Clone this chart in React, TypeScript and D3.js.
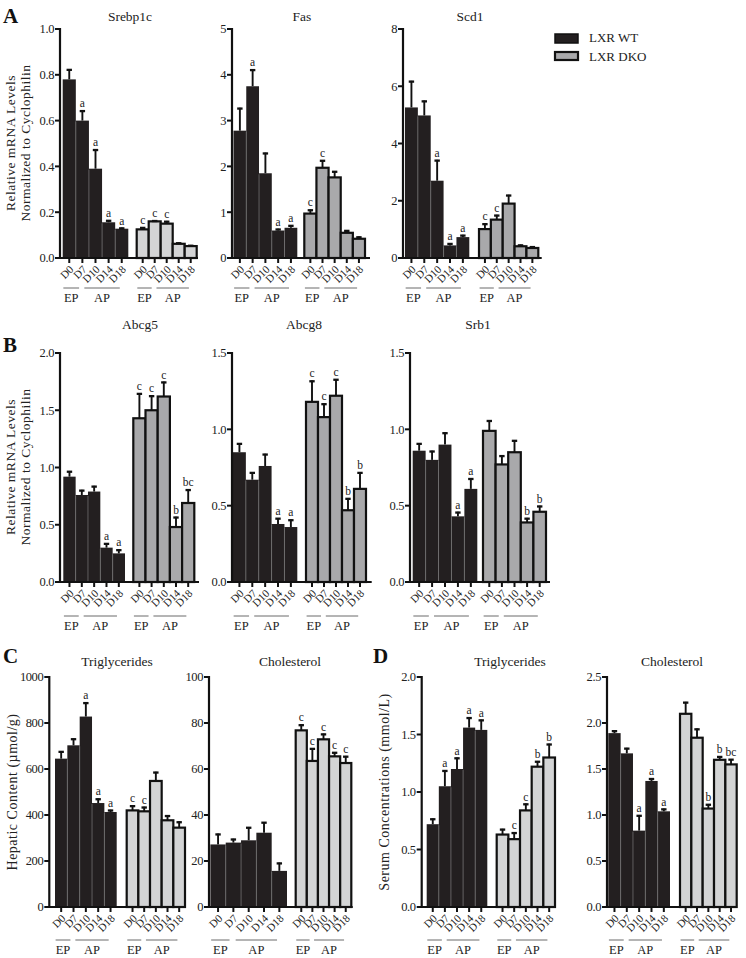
import React from "react";
import * as d3 from "d3";

const days = ["D0", "D7", "D10", "D14", "D18"];
const series = ["LXR WT", "LXR DKO"];
const phases = ["EP", "AP"];

// Panel A
const srebpWT = [0.78, 0.6, 0.39, 0.156, 0.128];
const srebpWTsem = [0.045, 0.045, 0.085, 0.01, 0.005];
const srebpWTsig = ["", "a", "a", "a", "a"];
const srebpKO = [0.125, 0.16, 0.15, 0.062, 0.052];
const srebpKOsem = [0.01, 0.005, 0.012, 0.006, 0.005];
const srebpKOsig = ["c", "c", "c", "", ""];

const fasWT = [2.78, 3.75, 1.85, 0.6, 0.66];
const fasWTsem = [0.5, 0.37, 0.45, 0.04, 0.06];
const fasWTsig = ["", "a", "", "a", "a"];
const fasKO = [0.97, 1.97, 1.76, 0.55, 0.42];
const fasKOsem = [0.09, 0.17, 0.14, 0.06, 0.05];
const fasKOsig = ["c", "c", "", "", ""];

const scdWT = [5.26, 4.98, 2.7, 0.44, 0.73];
const scdWTsem = [0.93, 0.52, 0.73, 0.08, 0.08];
const scdWTsig = ["", "", "a", "a", "a"];
const scdKO = [1.01, 1.34, 1.9, 0.41, 0.35];
const scdKOsem = [0.2, 0.17, 0.31, 0.06, 0.06];
const scdKOsig = ["c", "c", "", "", ""];

// Panel B
const abcg5WT = [0.92, 0.76, 0.79, 0.3, 0.25];
const abcg5WTsem = [0.05, 0.045, 0.05, 0.04, 0.035];
const abcg5WTsig = ["", "", "", "a", "a"];
const abcg5KO = [1.43, 1.5, 1.62, 0.48, 0.69];
const abcg5KOsem = [0.22, 0.13, 0.13, 0.09, 0.12];
const abcg5KOsig = ["c", "c", "c", "b", "bc"];

const abcg8WT = [0.85, 0.67, 0.76, 0.38, 0.36];
const abcg8WTsem = [0.06, 0.05, 0.08, 0.04, 0.05];
const abcg8WTsig = ["", "", "", "a", "a"];
const abcg8KO = [1.18, 1.08, 1.22, 0.47, 0.61];
const abcg8KOsem = [0.14, 0.09, 0.11, 0.08, 0.11];
const abcg8KOsig = ["c", "c", "c", "b", "b"];

const srb1WT = [0.86, 0.8, 0.9, 0.43, 0.61];
const srb1WTsem = [0.05, 0.06, 0.08, 0.03, 0.07];
const srb1WTsig = ["", "", "", "a", "a"];
const srb1KO = [0.99, 0.77, 0.85, 0.39, 0.46];
const srb1KOsem = [0.07, 0.06, 0.08, 0.03, 0.04];
const srb1KOsig = ["", "", "", "b", "b"];

// Panel C
const hepTgWT = [645, 703, 828, 452, 413];
const hepTgWTsem = [33, 30, 62, 20, 10];
const hepTgWTsig = ["", "", "a", "a", "a"];
const hepTgKO = [420, 416, 548, 377, 345];
const hepTgKOsem = [22, 20, 40, 22, 27];
const hepTgKOsig = ["c", "c", "", "", ""];

const hepChWT = [27.2, 28, 29, 32.3, 15.7];
const hepChWTsem = [4.7, 1.7, 5.8, 4.7, 3.6];
const hepChWTsig = ["", "", "", "", ""];
const hepChKO = [76.8, 63.5, 72.9, 65.5, 62.6];
const hepChKOsem = [2.6, 5.6, 2.5, 1.9, 3.1];
const hepChKOsig = ["c", "c", "c", "c", "c"];

// Panel D
const serTgWT = [0.72, 1.05, 1.2, 1.56, 1.54];
const serTgWTsem = [0.05, 0.14, 0.1, 0.09, 0.09];
const serTgWTsig = ["", "a", "a", "a", "a"];
const serTgKO = [0.63, 0.59, 0.84, 1.22, 1.3];
const serTgKOsem = [0.05, 0.06, 0.06, 0.05, 0.12];
const serTgKOsig = ["", "c", "c", "b", "b"];

const serChWT = [1.89, 1.67, 0.83, 1.37, 1.04];
const serChWTsem = [0.03, 0.06, 0.17, 0.03, 0.03];
const serChWTsig = ["", "", "a", "a", "a"];
const serChKO = [2.1, 1.84, 1.07, 1.6, 1.55];
const serChKOsem = [0.13, 0.1, 0.05, 0.04, 0.06];
const serChKOsig = ["", "", "b", "b", "bc"];

const FONT = "'Liberation Serif', 'Times New Roman', serif";
const WT_FILL = "#231f20";
const GRAY_DARK = "#a9a9ab";
const GRAY_LIGHT = "#d3d4d5";

type Data = {
  title: string;
  wt: number[]; wtSem: number[]; wtSig: string[];
  ko: number[]; koSem: number[]; koSig: string[];
};
type Layout = {
  x: number; top: number; bottom: number; max: number; step: number; fmt: string;
  g1: [number, number]; g2: [number, number]; end: number;
  koFill: string; titleX: number; titleY: number; lineY: number;
};

function Group({ band, vals, sems, sigs, y, bottom, ko, fill }: any) {
  const w = band.bandwidth();
  return (
    <g>
      {days.map((d, i) => {
        const x0 = band(d) as number;
        const top = y(vals[i]);
        return ko ? (
          <rect key={"r" + d} x={x0} y={top} width={w} height={bottom - top}
            fill={fill} stroke="#111" strokeWidth={2.2} />
        ) : (
          <rect key={"r" + d} x={x0} y={top} width={w} height={bottom - top} fill={WT_FILL} />
        );
      })}
      {!ko && days.slice(1).map((d, i) => {
        const x0 = band(d) as number;
        const lo = Math.min(vals[i], vals[i + 1]);
        return <line key={"s" + d} x1={x0} x2={x0} y1={bottom} y2={y(lo) + 1}
          stroke="#777" strokeWidth={0.7} />;
      })}
      {days.map((d, i) => {
        const cx = (band(d) as number) + w / 2;
        const top = y(vals[i]);
        const et = y(vals[i] + sems[i]);
        return (
          <g key={"e" + d}>
            <line x1={cx} x2={cx} y1={top} y2={et} stroke="#111" strokeWidth={1.9} />
            <line x1={cx - 2.7} x2={cx + 2.7} y1={et + 0.8} y2={et + 0.8} stroke="#111" strokeWidth={2.3} />
            {sigs[i] && (
              <text x={cx} y={et - 3} textAnchor="middle" fontSize={11.5} fontFamily={FONT} fill="#222">
                {sigs[i]}
              </text>
            )}
          </g>
        );
      })}
      {days.map((d) => {
        const cx = (band(d) as number) + w / 2;
        return (
          <g key={"t" + d}>
            <line x1={cx} x2={cx} y1={bottom} y2={bottom + 5} stroke="#111" strokeWidth={2} />
            <text transform={`translate(${cx + 5},${bottom + 12}) rotate(-45)`} textAnchor="end"
              fontSize={11} fontFamily={FONT} fill="#222">{d}</text>
          </g>
        );
      })}
    </g>
  );
}

function PhaseLines({ band, lineY }: any) {
  const p = band.step();
  const l = band.range()[0];
  const segs = [
    { name: phases[0], a: l + 0.05 * p, b: l + 1.25 * p },
    { name: phases[1], a: l + 1.65 * p, b: l + 4.35 * p },
  ];
  return (
    <g>
      {segs.map((s) => (
        <g key={s.name}>
          <line x1={s.a} x2={s.b} y1={lineY} y2={lineY} stroke="#6a6a6a" strokeWidth={1} />
          <text x={(s.a + s.b) / 2} y={lineY + 14} textAnchor="middle" fontSize={12.5}
            fontFamily={FONT} fill="#222">{s.name}</text>
        </g>
      ))}
    </g>
  );
}

function Subplot({ data, lay }: { data: Data; lay: Layout }) {
  const y = d3.scaleLinear().domain([0, lay.max]).range([lay.bottom, lay.top]);
  const b1 = d3.scaleBand<string>().domain(days).range([lay.x + lay.g1[0], lay.x + lay.g1[1]]).padding(0);
  const b2 = d3.scaleBand<string>().domain(days).range([lay.x + lay.g2[0], lay.x + lay.g2[1]]).padding(0);
  const ticks = d3.range(0, lay.max + lay.step / 2, lay.step);
  const f = d3.format(lay.fmt);
  return (
    <g>
      <text x={lay.titleX} y={lay.titleY} textAnchor="middle" fontSize={13.5} fontFamily={FONT} fill="#222">
        {data.title}
      </text>
      <Group band={b1} vals={data.wt} sems={data.wtSem} sigs={data.wtSig} y={y} bottom={lay.bottom} ko={false} />
      <Group band={b2} vals={data.ko} sems={data.koSem} sigs={data.koSig} y={y} bottom={lay.bottom} ko={true} fill={lay.koFill} />
      <line x1={lay.x} x2={lay.x} y1={lay.top - 1} y2={lay.bottom + 1} stroke="#111" strokeWidth={2.2} />
      <line x1={lay.x - 1} x2={lay.x + lay.end} y1={lay.bottom} y2={lay.bottom} stroke="#111" strokeWidth={2.2} />
      {ticks.map((t) => (
        <g key={t}>
          <line x1={lay.x - 5} x2={lay.x} y1={y(t)} y2={y(t)} stroke="#111" strokeWidth={2} />
          <text x={lay.x - 6} y={y(t)} dy="0.35em" textAnchor="end" fontSize={12.5} fontFamily={FONT}
            fill="#222" letterSpacing={-0.4}>{f(t)}</text>
        </g>
      ))}
      <PhaseLines band={b1} lineY={lay.lineY} />
      <PhaseLines band={b2} lineY={lay.lineY} />
    </g>
  );
}

const mk = (title: string, wt: number[], wtSem: number[], wtSig: string[], ko: number[], koSem: number[], koSig: string[]): Data =>
  ({ title, wt, wtSem, wtSig, ko, koSem, koSig });

const plots: { data: Data; lay: Layout }[] = [
  { data: mk("Srebp1c", srebpWT, srebpWTsem, srebpWTsig, srebpKO, srebpKOsem, srebpKOsig),
    lay: { x: 60, top: 29, bottom: 258, max: 1, step: 0.2, fmt: ".1f", g1: [2.7, 68.3], g2: [76.7, 136.7], end: 138, koFill: GRAY_LIGHT, titleX: 130, titleY: 21, lineY: 288 } },
  { data: mk("Fas", fasWT, fasWTsem, fasWTsig, fasKO, fasKOsem, fasKOsig),
    lay: { x: 232, top: 29, bottom: 258, max: 5, step: 1, fmt: "d", g1: [1.5, 65.3], g2: [72.3, 133], end: 138, koFill: GRAY_DARK, titleX: 302, titleY: 21, lineY: 288 } },
  { data: mk("Scd1", scdWT, scdWTsem, scdWTsig, scdKO, scdKOsem, scdKOsig),
    lay: { x: 403, top: 29, bottom: 258, max: 8, step: 2, fmt: "d", g1: [2, 66.3], g2: [76, 135.3], end: 138.7, koFill: GRAY_DARK, titleX: 470, titleY: 21, lineY: 288 } },
  { data: mk("Abcg5", abcg5WT, abcg5WTsem, abcg5WTsig, abcg5KO, abcg5KOsem, abcg5KOsig),
    lay: { x: 60, top: 353, bottom: 582, max: 2, step: 0.5, fmt: ".1f", g1: [3.3, 65], g2: [73.3, 134.3], end: 139, koFill: GRAY_DARK, titleX: 140, titleY: 329, lineY: 616 } },
  { data: mk("Abcg8", abcg8WT, abcg8WTsem, abcg8WTsig, abcg8KO, abcg8KOsem, abcg8KOsig),
    lay: { x: 232, top: 353, bottom: 582, max: 1.5, step: 0.5, fmt: ".1f", g1: [1, 65.3], g2: [74, 134], end: 139.7, koFill: GRAY_DARK, titleX: 304, titleY: 329, lineY: 616 } },
  { data: mk("Srb1", srb1WT, srb1WTsem, srb1WTsig, srb1KO, srb1KOsem, srb1KOsig),
    lay: { x: 410, top: 353, bottom: 582, max: 1.5, step: 0.5, fmt: ".1f", g1: [2.7, 67.3], g2: [73, 136], end: 140, koFill: GRAY_DARK, titleX: 478, titleY: 329, lineY: 616 } },
  { data: mk("Triglycerides", hepTgWT, hepTgWTsem, hepTgWTsig, hepTgKO, hepTgKOsem, hepTgKOsig),
    lay: { x: 49.3, top: 677, bottom: 907, max: 1000, step: 200, fmt: "d", g1: [5.7, 67.4], g2: [77.4, 135.7], end: 136.7, koFill: GRAY_LIGHT, titleX: 117, titleY: 666, lineY: 940 } },
  { data: mk("Cholesterol", hepChWT, hepChWTsem, hepChWTsig, hepChKO, hepChKOsem, hepChKOsig),
    lay: { x: 209, top: 677, bottom: 907, max: 100, step: 20, fmt: "d", g1: [1.4, 78], g2: [86.7, 142.3], end: 143.7, koFill: GRAY_LIGHT, titleX: 290, titleY: 666, lineY: 940 } },
  { data: mk("Triglycerides", serTgWT, serTgWTsem, serTgWTsig, serTgKO, serTgKOsem, serTgKOsig),
    lay: { x: 421.7, top: 677, bottom: 907, max: 2, step: 0.5, fmt: ".1f", g1: [5, 65.6], g2: [75, 133.3], end: 134, koFill: GRAY_LIGHT, titleX: 510, titleY: 666, lineY: 940 } },
  { data: mk("Cholesterol", serChWT, serChWTsem, serChWTsig, serChKO, serChKOsem, serChKOsig),
    lay: { x: 607, top: 677, bottom: 907, max: 2.5, step: 0.5, fmt: ".1f", g1: [1.3, 63], g2: [73, 129.7], end: 130, koFill: GRAY_LIGHT, titleX: 672, titleY: 666, lineY: 940 } },
];

function YLabel({ x, y, lines, size }: { x: number; y: number; lines: string[]; size: number }) {
  return (
    <g transform={`translate(${x},${y}) rotate(-90)`}>
      {lines.map((l, i) => (
        <text key={l} x={0} y={i * 15} textAnchor="middle" fontSize={size} fontFamily={FONT}
          fill="#222" letterSpacing={0.5}>{l}</text>
      ))}
    </g>
  );
}

export default function App() {
  const mrna = ["Relative mRNA Levels", "Normalized to Cyclophilin"];
  return (
    <svg width={746} height={958} style={{ position: "absolute", left: 0, top: 0, background: "#fff" }}>
      <rect width={746} height={958} fill="#fff" />
      {["A", "B", "C", "D"].map((p, i) => {
        const pos = [[3, 23], [3, 352], [3, 663], [373, 663]][i];
        return (
          <text key={p} x={pos[0]} y={pos[1]} fontSize={21} fontWeight="bold" fontFamily={FONT} fill="#111">{p}</text>
        );
      })}
      <YLabel x={15} y={143} lines={mrna} size={13.5} />
      <YLabel x={15} y={467} lines={mrna} size={13.5} />
      <YLabel x={17} y={792} lines={["Hepatic Content (µmol/g)"]} size={14} />
      <YLabel x={389} y={792} lines={["Serum Concentrations (mmol/L)"]} size={14} />
      {plots.map((p, i) => (
        <Subplot key={i} data={p.data} lay={p.lay} />
      ))}
      <rect x={555} y={34} width={23} height={9} fill={WT_FILL} stroke="#111" strokeWidth={1.5} />
      <rect x={555} y={52} width={23} height={8} fill={GRAY_DARK} stroke="#111" strokeWidth={2.2} />
      <text x={589} y={42} fontSize={13} fontFamily={FONT} fill="#222">{series[0]}</text>
      <text x={589} y={61} fontSize={13} fontFamily={FONT} fill="#222">{series[1]}</text>
    </svg>
  );
}
